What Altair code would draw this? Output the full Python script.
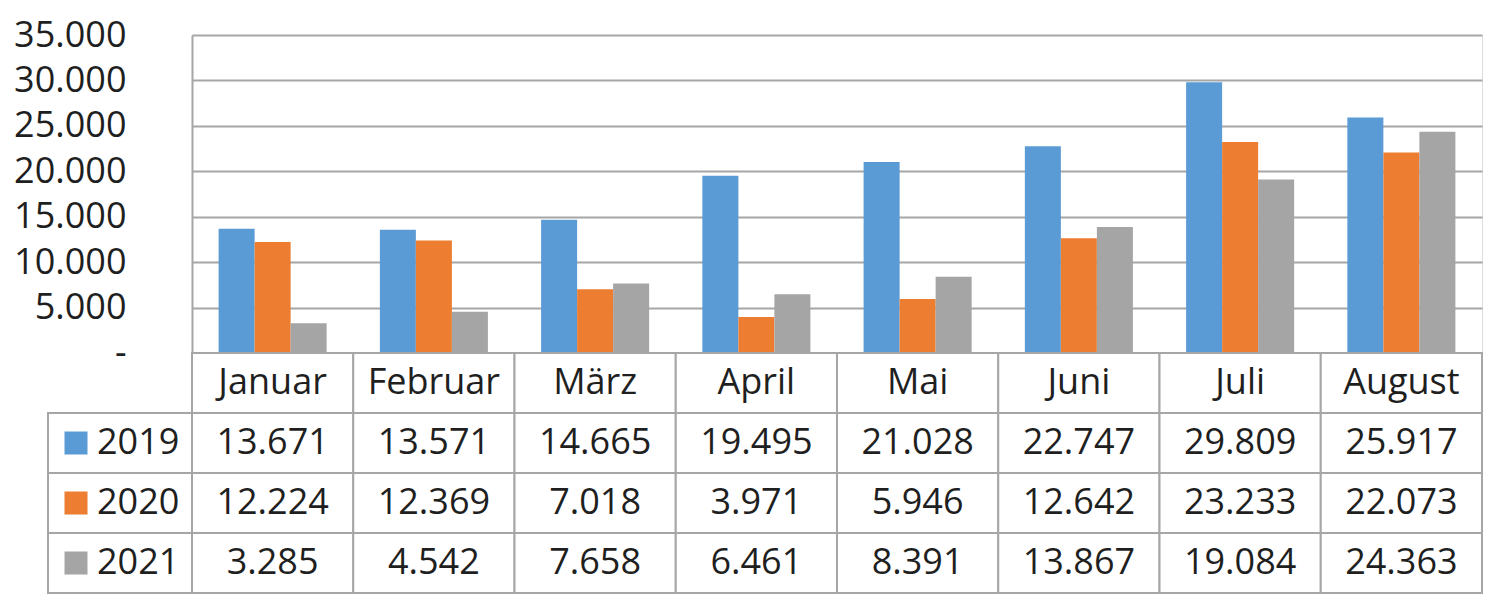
import altair as alt
import pandas as pd

months = ["Januar", "Februar", "März", "April", "Mai", "Juni", "Juli", "August"]
years = ["2019", "2020", "2021"]
v2019 = [13671, 13571, 14665, 19495, 21028, 22747, 29809, 25917]
v2020 = [12224, 12369, 7018, 3971, 5946, 12642, 23233, 22073]
v2021 = [3285, 4542, 7658, 6461, 8391, 13867, 19084, 24363]
colors = ["#5b9bd5", "#ed7d31", "#a5a5a5"]
y_ticks = [0, 5000, 10000, 15000, 20000, 25000, 30000, 35000]

GRID = "#a6a6a6"
TXT = "#1f1f1f"
FONT = "Open Sans"

series = {"2019": v2019, "2020": v2020, "2021": v2021}

bar_rows = []
for y in years:
    for m, v in zip(months, series[y]):
        bar_rows.append({"month": m, "year": y, "value": v})
df_bars = pd.DataFrame(bar_rows)

row_domain = ["Monat"] + years
tab_rows = [{"month": m, "row": "Monat", "label": m} for m in months]
for y in years:
    for m, v in zip(months, series[y]):
        tab_rows.append({"month": m, "row": y, "label": f"{v:,}".replace(",", ".")})
df_tab = pd.DataFrame(tab_rows)
df_leg = pd.DataFrame({"row": years, "year": years})

W = 1290
color_enc = alt.Color("year:N", scale=alt.Scale(domain=years, range=colors), legend=None)

top = alt.Chart(df_bars).mark_bar().encode(
    x=alt.X("month:N", sort=months,
            scale=alt.Scale(domain=months, paddingInner=0.33, paddingOuter=0.165),
            axis=None),
    xOffset=alt.XOffset("year:N", sort=years, scale=alt.Scale(paddingInner=0, paddingOuter=0)),
    y=alt.Y("value:Q", scale=alt.Scale(domain=[0, 35000], nice=False),
            axis=alt.Axis(values=y_ticks, title=None, grid=True, gridColor=GRID, gridWidth=2,
                          domain=True, domainColor=GRID, domainWidth=2,
                          ticks=False, tickSize=0, labelPadding=66,
                          labelFontSize=36, labelColor=TXT, labelFont=FONT,
                          labelExpr="datum.value == 0 ? '-\u00a0\u00a0\u00a0\u00a0' : replace(format(datum.value, ',.0f'), ',', '.')")),
    color=color_enc,
).properties(width=W, height=318)

Xb = alt.X("month:N", sort=months,
           scale=alt.Scale(domain=months, paddingInner=0, paddingOuter=0), axis=None)
Yb = alt.Y("row:N", sort=row_domain,
           scale=alt.Scale(domain=row_domain, paddingInner=0, paddingOuter=0), axis=None)

cells = alt.Chart(df_tab).mark_rect(fill="white", stroke=GRID, strokeWidth=2).encode(x=Xb, y=Yb)
cell_txt = alt.Chart(df_tab).mark_text(fontSize=36, color=TXT, font=FONT, baseline="middle").encode(
    x=Xb, y=Yb, text="label:N")
leg_cells = alt.Chart(df_leg).mark_rect(fill="white", stroke=GRID, strokeWidth=2).encode(
    x=alt.value(-144), x2=alt.value(0), y=Yb)
leg_sq = alt.Chart(df_leg).mark_square(size=529, opacity=1, filled=True).encode(
    x=alt.value(-116), y=Yb, color=color_enc)
leg_txt = alt.Chart(df_leg).mark_text(fontSize=36, color=TXT, font=FONT, align="left",
                                      baseline="middle").encode(
    x=alt.value(-95), y=Yb, text="year:N")

bottom = alt.layer(cells, cell_txt, leg_cells, leg_sq, leg_txt).properties(width=W, height=240)

chart = alt.vconcat(top, bottom, spacing=0, bounds="flush").resolve_scale(
    x="independent", y="independent"
).properties(
    padding={"left": 5, "top": 8, "right": 0, "bottom": 0}
).configure_view(stroke=None).configure(font=FONT)

chart.save("out.html", embed_options={"renderer": "svg", "actions": False})
